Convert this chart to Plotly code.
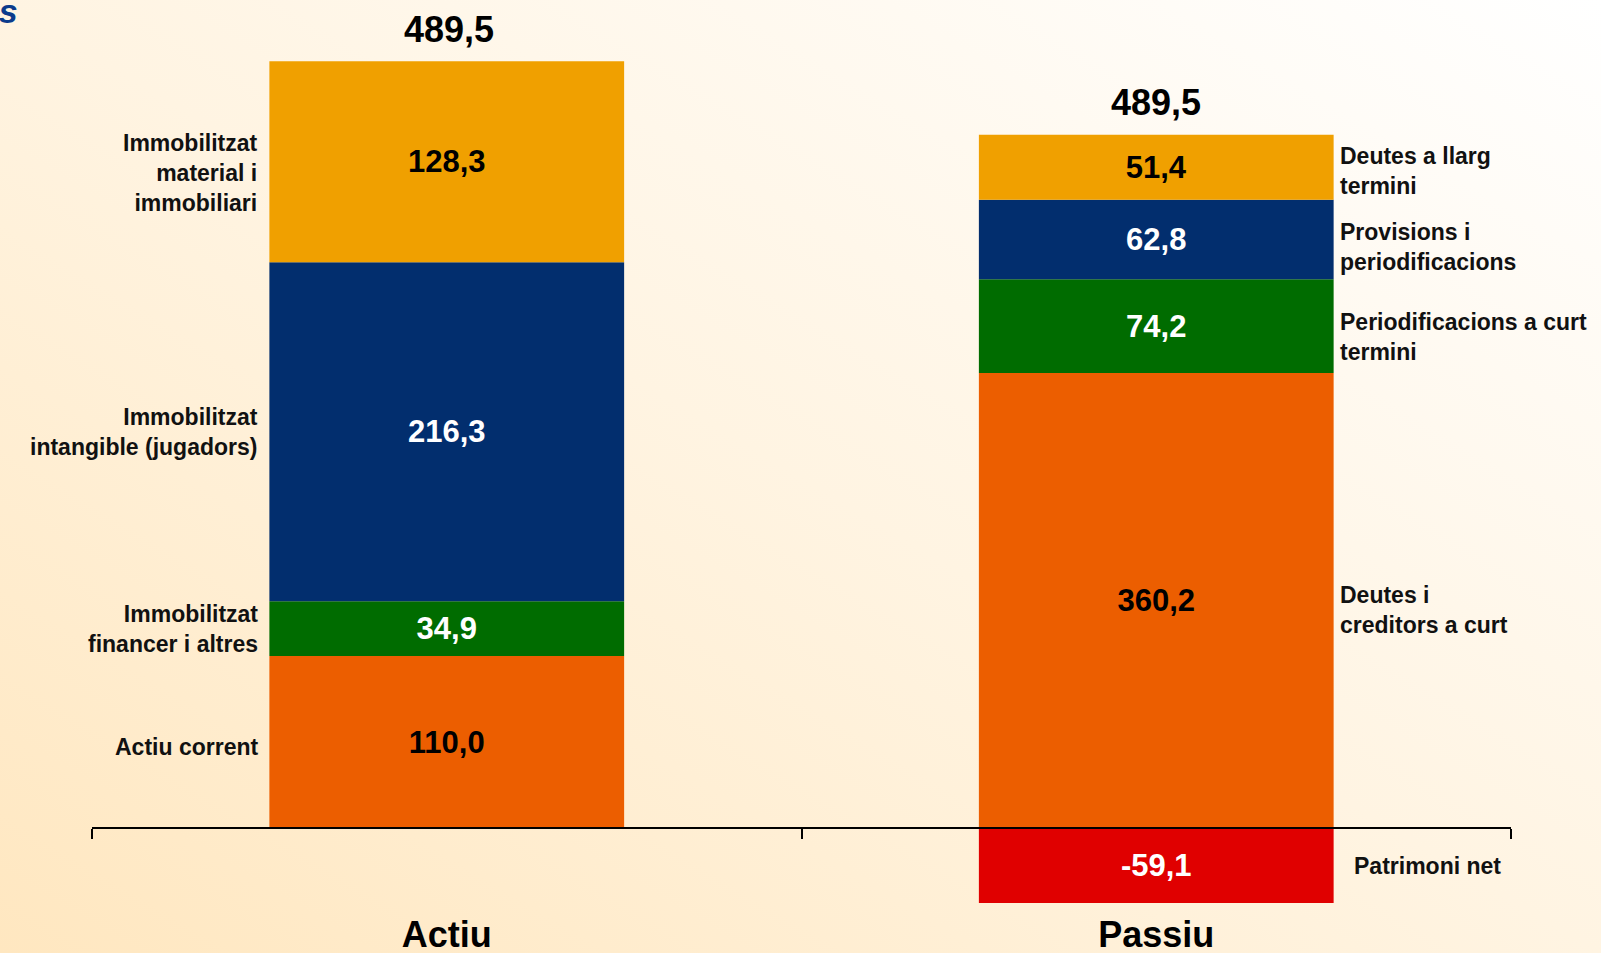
import base64
import plotly.graph_objects as go

# ---------------- data ----------------
CATEGORIES = ["Actiu", "Passiu"]

ACTIU_LABELS = ["Actiu corrent", "Immobilitzat<br>financer i altres",
                "Immobilitzat<br>intangible (jugadors)",
                "Immobilitzat<br>material i<br>immobiliari"]
ACTIU_VALUES = [110.0, 34.9, 216.3, 128.3]

PASSIU_LABELS = ["Deutes i<br>creditors a curt",
                 "Periodificacions a curt<br>termini",
                 "Provisions i<br>periodificacions",
                 "Deutes a llarg<br>termini",
                 "Patrimoni net"]
PASSIU_VALUES = [360.2, 74.2, 62.8, 51.4, -59.1]

# ---------------- styles ----------------
ACTIU_COLORS = ["#EC5E00", "#006C00", "#022E6E", "#F0A000"]
ACTIU_TEXTCOL = ["#000000", "#FFFFFF", "#FFFFFF", "#000000"]
ACTIU_LABEL_DY = [-5, 0, 0, -11]          # small vertical label nudges (px)
PASSIU_COLORS = ["#EC5E00", "#006C00", "#022E6E", "#F0A000", "#E00000"]
PASSIU_TEXTCOL = ["#000000", "#FFFFFF", "#FFFFFF", "#000000", "#FFFFFF"]
PASSIU_LABEL_DY = [-9, -11, -8, -4, 0]

FONT = "Liberation Sans, Arial, Helvetica, sans-serif"
BAR_W = 0.5

W, H = 1601, 953
ML, MR, MT, MB = 92, 90, 20, 48
PW, PH = W - ML - MR, H - MT - MB


def fmt(v):
    return f"{v:.1f}".replace(".", ",")


fig = go.Figure()

# Actiu stack (primary axes)
for lab, v, c, tc in zip(ACTIU_LABELS, ACTIU_VALUES, ACTIU_COLORS, ACTIU_TEXTCOL):
    fig.add_trace(go.Bar(
        x=[CATEGORIES[0]], y=[v], width=BAR_W, name=lab.replace("<br>", " "),
        marker=dict(color=c, line=dict(width=0)),
        text=[fmt(v)], textposition="inside", insidetextanchor="middle",
        textangle=0, constraintext="none",
        textfont=dict(family=FONT, size=31, color=tc, weight="bold"),
        xaxis="x", yaxis="y", showlegend=False, hoverinfo="skip"))

# Passiu stack (secondary axes, own scale)
for lab, v, c, tc in zip(PASSIU_LABELS, PASSIU_VALUES, PASSIU_COLORS, PASSIU_TEXTCOL):
    fig.add_trace(go.Bar(
        x=[CATEGORIES[1]], y=[v], width=BAR_W, name=lab.replace("<br>", " "),
        marker=dict(color=c, line=dict(width=0)),
        text=[fmt(v)], textposition="inside", insidetextanchor="middle",
        textangle=0, constraintext="none",
        textfont=dict(family=FONT, size=31, color=tc, weight="bold"),
        xaxis="x2", yaxis="y2", showlegend=False, hoverinfo="skip"))

annotations = []

# Left labels for Actiu
base = 0.0
for lab, v, dy in zip(ACTIU_LABELS, ACTIU_VALUES, ACTIU_LABEL_DY):
    annotations.append(dict(
        x=0 - BAR_W / 2, y=base + v / 2, xref="x", yref="y",
        xanchor="right", yanchor="middle", xshift=-9, yshift=dy,
        text=lab, showarrow=False, align="right",
        font=dict(family=FONT, size=23, color="#111111", weight="bold")))
    base += v

# Right labels for Passiu
pos, neg = 0.0, 0.0
for lab, v, dy in zip(PASSIU_LABELS, PASSIU_VALUES, PASSIU_LABEL_DY):
    if v >= 0:
        mid = pos + v / 2
        pos += v
        xs = 4
    else:
        mid = neg + v / 2
        neg += v
        xs = 18
    annotations.append(dict(
        x=1 + BAR_W / 2, y=mid, xref="x2", yref="y2",
        xanchor="left", yanchor="middle", xshift=xs, yshift=dy,
        text=lab, showarrow=False, align="left",
        font=dict(family=FONT, size=23, color="#111111", weight="bold")))

# Totals
actiu_total = sum(ACTIU_VALUES)
passiu_total = sum(PASSIU_VALUES)
passiu_top = sum(v for v in PASSIU_VALUES if v > 0)
annotations.append(dict(
    x=CATEGORIES[0], y=actiu_total, xref="x", yref="y", yanchor="middle",
    yshift=32, xshift=2, text=fmt(actiu_total), showarrow=False,
    font=dict(family=FONT, size=36, color="#000000", weight="bold")))
annotations.append(dict(
    x=CATEGORIES[1], y=passiu_top, xref="x2", yref="y2", yanchor="middle",
    yshift=32, text=fmt(passiu_total), showarrow=False,
    font=dict(family=FONT, size=36, color="#000000", weight="bold")))

# Cut-off title fragment at top-left (as in the reference)
annotations.append(dict(
    x=(20 - ML) / PW, y=1 + (MT - 11) / PH, xref="paper", yref="paper",
    xanchor="right", yanchor="middle", text="euros", showarrow=False,
    font=dict(family=FONT, size=34, color="#0B3B8C", weight="bold",
              style="italic")))

# Background gradient image
svg = ('<svg xmlns="http://www.w3.org/2000/svg" width="100" height="100" '
       'viewBox="0 0 100 100" preserveAspectRatio="none">'
       '<defs><linearGradient id="g" x1="0" y1="1" x2="1" y2="0">'
       '<stop offset="0" stop-color="#FFE7C0"/>'
       '<stop offset="0.5" stop-color="#FFF4E2"/>'
       '<stop offset="1" stop-color="#FFFFFF"/>'
       '</linearGradient></defs>'
       '<rect width="100" height="100" fill="url(#g)"/></svg>')
src = "data:image/svg+xml;base64," + base64.b64encode(svg.encode()).decode()

# Axis ranges so both stacks share the zero line but have own scales
ZERO_PX = 828.4          # page pixel of zero line
ACTIU_TOP_PX = 61.3
PASSIU_TOP_PX = 134.8
k1 = (ZERO_PX - ACTIU_TOP_PX) / actiu_total
k2 = (ZERO_PX - PASSIU_TOP_PX) / passiu_top
plot_bottom = MT + PH
y1_range = [-(plot_bottom - ZERO_PX) / k1, (ZERO_PX - MT) / k1]
y2_range = [-(plot_bottom - ZERO_PX) / k2, (ZERO_PX - MT) / k2]
zero_frac = (plot_bottom - ZERO_PX) / PH

fig.update_layout(
    width=W, height=H, autosize=False,
    margin=dict(l=ML, r=MR, t=MT, b=MB, pad=0, autoexpand=False),
    barmode="relative",
    paper_bgcolor="#FFF4E2", plot_bgcolor="rgba(0,0,0,0)",
    images=[dict(source=src, xref="paper", yref="paper",
                 x=-ML / PW, y=1 + MT / PH, sizex=W / PW, sizey=H / PH,
                 xanchor="left", yanchor="top", sizing="stretch",
                 layer="below")],
    xaxis=dict(type="category", categoryorder="array",
               categoryarray=CATEGORIES, range=[-0.5, 1.5],
               showline=False, showgrid=False, zeroline=False, ticks="",
               ticklabelstandoff=5, automargin=False,
               tickfont=dict(family=FONT, size=36, color="#000000",
                             weight="bold")),
    xaxis2=dict(type="category", categoryorder="array",
                categoryarray=CATEGORIES, range=[-0.5, 1.5],
                overlaying="x", anchor="free", position=zero_frac,
                showline=True, linecolor="#000000", linewidth=2,
                ticks="outside", tickson="boundaries", ticklen=10,
                tickwidth=2, tickcolor="#000000", automargin=False,
                showticklabels=False, showgrid=False, zeroline=False),
    yaxis=dict(range=y1_range, visible=False, fixedrange=True,
               automargin=False),
    yaxis2=dict(range=y2_range, overlaying="y", visible=False,
                fixedrange=True, automargin=False),
    annotations=annotations,
    uniformtext=dict(minsize=31, mode="show"),
)

fig.write_html("out.html",
               config={"responsive": False, "displayModeBar": False},
               post_script="document.body.style.margin='0';")
